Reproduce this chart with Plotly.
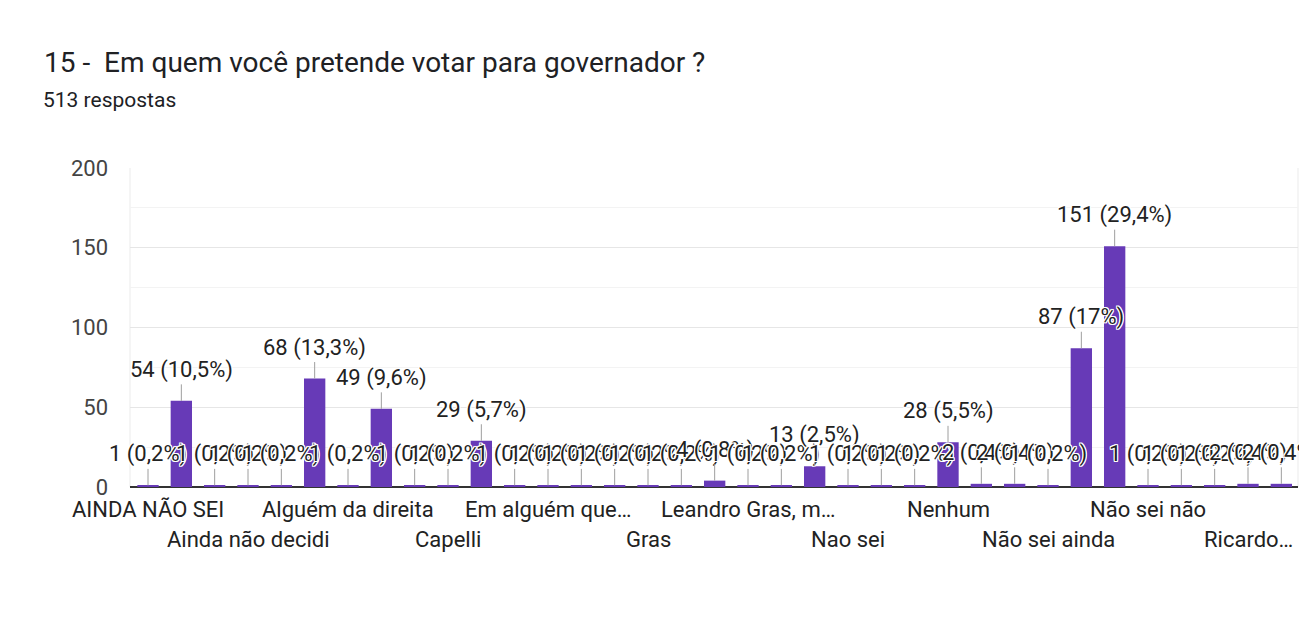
import plotly.graph_objects as go

# Data (35 answers, alphabetical order; only every third label is displayed by the chart)
values = [1, 54, 1, 1, 1, 68, 1, 49, 1, 1,
          29, 1, 1, 1, 1, 1, 1, 4, 1, 1,
          13, 1, 1, 1, 28, 2, 2, 1, 87, 151,
          1, 1, 1, 2, 2]
shown_labels = {0: "AINDA NÃO SEI", 3: "Ainda não decidi", 6: "Alguém da direita",
                9: "Capelli", 12: "Em alguém que…", 15: "Gras",
                18: "Leandro Gras, m…", 21: "Nao sei", 24: "Nenhum",
                27: "Não sei ainda", 30: "Não sei não", 33: "Ricardo…"}
total = 513
title_text = "15 -  Em quem você pretende votar para governador ?"
subtitle_text = "513 respostas"

x = list(range(len(values)))

def pct(v):
    p = round(v * 100.0 / total, 1)
    s = ("%.1f" % p).replace(".", ",")
    if s.endswith(",0"):
        s = s[:-2]
    return f"{v} ({s}%)"

FONT = "Roboto, Arial, sans-serif"
halo = "-1px -1px 0 #fff, 1px -1px 0 #fff, -1px 1px 0 #fff, 1px 1px 0 #fff, 0 1px 0 #fff, 0 -1px 0 #fff, 1px 0 0 #fff, -1px 0 0 #fff"

fig = go.Figure(go.Bar(x=x, y=values, marker_color="#673ab7", marker_line_width=0,
                       width=0.64, hoverinfo="skip"))

ann = []
for i, v in zip(x, values):
    ann.append(dict(x=i, y=v, xref="x", yref="y", text=pct(v), showarrow=True,
                    arrowhead=0, arrowwidth=1, arrowcolor="#9e9e9e", ax=0, ay=-31,
                    standoff=0, startstandoff=0,
                    font=dict(family=FONT, size=22, color="#222222", shadow=halo)))
for i, lab in shown_labels.items():
    row = (i // 3) % 2
    ann.append(dict(x=i, y=0, xref="x", yref="paper", text=lab, showarrow=False,
                    yanchor="middle", yshift=-22 - 30 * row,
                    font=dict(family=FONT, size=22, color="#222222")))
ann.append(dict(x=(44 - 130) / 1168, y=(487 - 100) / 319, xref="paper", yref="paper",
                text=subtitle_text, showarrow=False, xanchor="left", yanchor="middle",
                xshift=-3,
                font=dict(family=FONT, size=21, color="#202124")))

fig.update_layout(
    width=1299, height=618,
    margin=dict(l=130, r=1, t=168, b=131),
    paper_bgcolor="white", plot_bgcolor="white",
    title=dict(text=title_text, x=44 / 1299, xref="container", xanchor="left",
               y=1 - 62 / 618, yref="container", yanchor="middle",
               font=dict(family=FONT, size=28, color="#202124")),
    xaxis=dict(range=[-0.54, 34.5], showticklabels=False, showgrid=False,
               zeroline=False, showline=False, fixedrange=True),
    yaxis=dict(range=[0, 200], dtick=50, tick0=0, showgrid=True, gridcolor="#e6e6e6",
               minor=dict(dtick=25, showgrid=True, gridcolor="#f3f3f3"),
               zeroline=True, zerolinecolor="#333333", zerolinewidth=2,
               tickfont=dict(family=FONT, size=22, color="#444444"),
               ticklabelstandoff=21, showline=False),
    annotations=ann,
    shapes=[dict(type="line", xref="paper", yref="paper", x0=0, x1=0, y0=0, y1=1,
                 line=dict(color="#ebebeb", width=1), layer="below"),
            dict(type="line", xref="paper", yref="paper", x0=1, x1=1, y0=0, y1=1,
                 line=dict(color="#ebebeb", width=1), layer="below")],
    showlegend=False,
)

fig.write_html("out.html")
